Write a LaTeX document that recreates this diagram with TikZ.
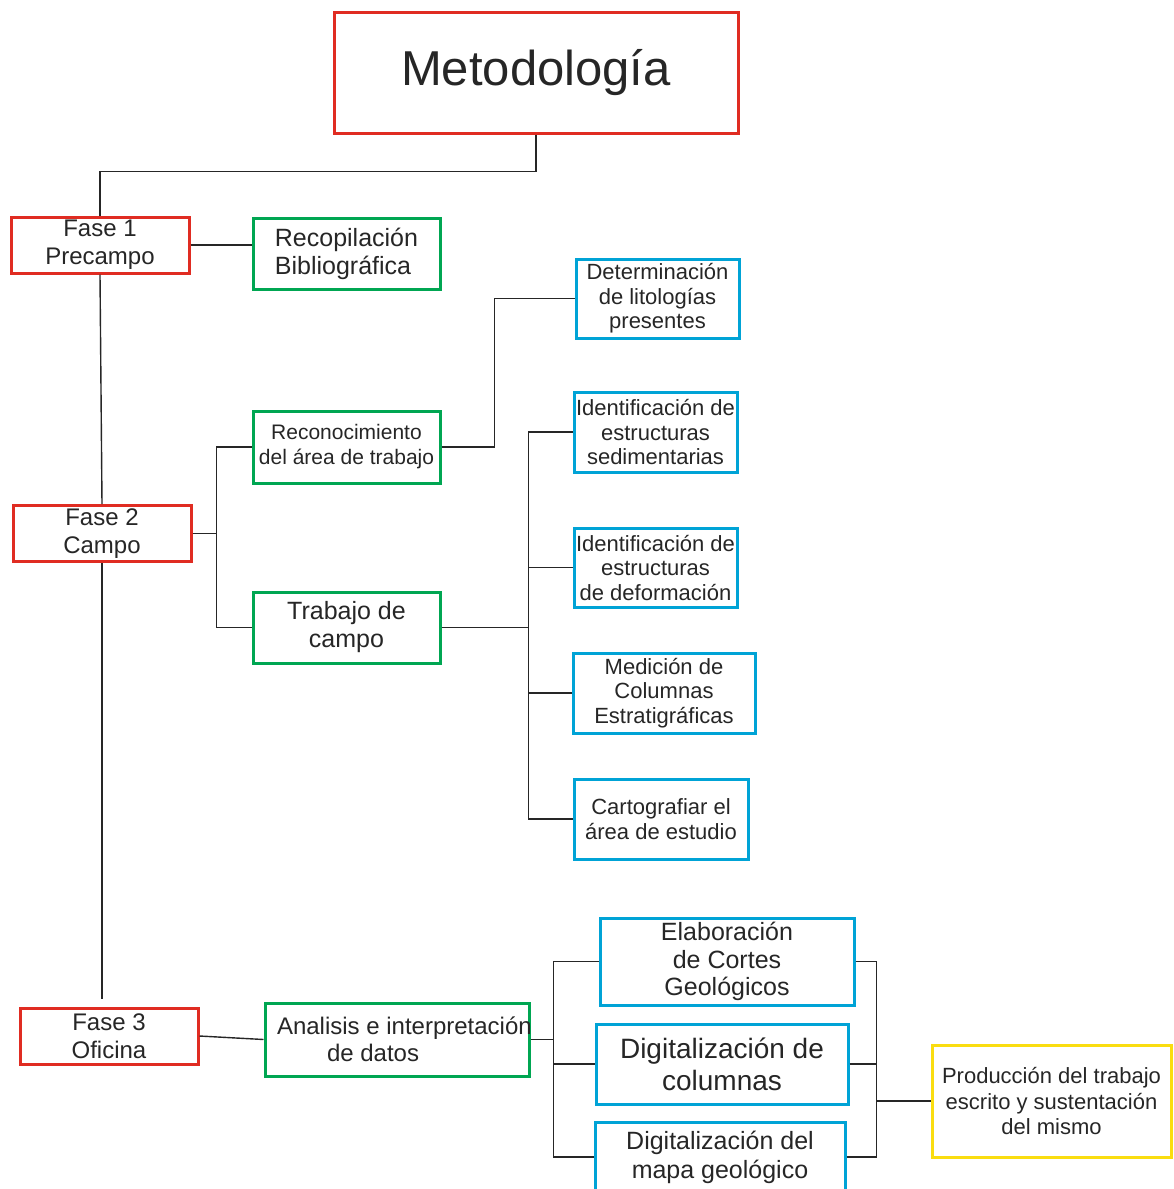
\documentclass[tikz,border=0pt]{standalone}
\usepackage{fontspec}
\setmainfont{Liberation Sans}
\definecolor{fasered}{RGB}{224,44,34}
\definecolor{subgreen}{RGB}{0,166,82}
\definecolor{taskblue}{RGB}{0,163,214}
\definecolor{endyellow}{RGB}{250,221,16}

\begin{document}
\begin{tikzpicture}[
  x=1pt, y=-1pt,
  box/.style={draw,line width=3pt,inner sep=0pt,align=center,text=black!85},
  fasebox/.style={box,draw=fasered,minimum width=178pt,minimum height=56pt,
    font=\fontsize{24}{28}\selectfont},
  subbox/.style={box,draw=subgreen,minimum width=187pt,minimum height=71pt,
    font=\fontsize{25}{28}\selectfont},
  taskbox/.style={box,draw=taskblue,minimum width=163pt,minimum height=80pt,
    font=\fontsize{22}{24.5}\selectfont},
  link/.style={draw=black!85,line width=1.4pt},
]
\useasboundingbox (0,0) rectangle (1173,1189);

\node[box,draw=fasered,minimum width=404pt,minimum height=121pt,
  font=\fontsize{49}{55}\selectfont] (meto) at (536,72.5) {Metodología};

\node[fasebox] (fase1) at (100,245) {Fase 1\\Precampo};
\node[fasebox] (fase2) at (102,533.5) {Fase 2\\Campo};
\node[fasebox] (fase3) at (109,1036) {Fase 3\\Oficina};

\node[subbox,align=left] (recop) at (346.5,253.5) {Recopilación\\Bibliográfica};
\node[subbox,minimum height=72pt,font=\fontsize{21}{25}\selectfont] (recon) at (346.5,447)
  {Reconocimiento\\del área de trabajo};
\node[subbox] (trab) at (346.5,627.5) {Trabajo de\\campo};
\node[subbox,minimum width=264pt,minimum height=73pt,
  font=\fontsize{24}{27}\selectfont] (anal) at (397,1039.5)
  {\makebox[264pt][l]{\hspace{12pt}Analisis e interpretación}\\
   \makebox[264pt][l]{\hspace{62pt}de datos}};

\node[taskbox,minimum height=79pt] (deter) at (657.5,298.5) {Determinación\\de litologías\\presentes};
\node[taskbox] (idsed) at (655.5,432) {Identificación de\\estructuras\\sedimentarias};
\node[taskbox,minimum height=79pt] (iddef) at (655.5,567.5) {Identificación de\\estructuras\\de deformación};
\node[taskbox,minimum width=182pt] (medic) at (664,693) {Medición de\\Columnas\\Estratigráficas};
\node[taskbox,minimum width=174pt] (carto) at (661,819) {Cartografiar el\\área de estudio};

\node[taskbox,minimum width=254pt,minimum height=87pt,font=\fontsize{25}{27.5}\selectfont]
  (elab) at (727,961.5) {Elaboración\\de Cortes\\Geológicos};
\node[taskbox,minimum width=252pt,minimum height=80pt,font=\fontsize{28}{32}\selectfont]
  (digcol) at (722,1064) {Digitalización de\\columnas};
\node[taskbox,minimum width=250pt,minimum height=70pt,font=\fontsize{25}{29}\selectfont]
  (digmap) at (720,1157) {Digitalización del\\mapa geológico};

\node[box,draw=endyellow,minimum width=239pt,minimum height=112pt,
  font=\fontsize{22}{25.5}\selectfont] (prod) at (1051.5,1101)
  {Producción del trabajo\\escrito y sustentación\\del mismo};

% tronco principal
\draw[link] (meto.south) -- ++(0,37) -| (fase1.north);
\draw[link] (fase1.east) -- (fase1.east -| recop.west);
\draw[link] (fase1.south) -- (fase2.north);
\draw[link] (fase2.south) -- ([yshift=8pt]fase2.south |- fase3.north);

% fase 2
\coordinate (bus2) at ([xshift=24pt]fase2.east);
\draw[link] (fase2.east) -- (bus2);
\draw[link] (recon.west) -| (bus2) |- (trab.west);
\draw[link] (recon.east) -- ++(53,0) |- (deter.west);
\draw[link] (trab.east) -- ++(87,0) coordinate (bus3);
\foreach \n in {idsed,iddef,medic,carto}
  \draw[link] (bus3) |- (\n.west);

% fase 3
\draw[link] (fase3.east) -- (anal.west);
\draw[link] (anal.east) -- ++(23,0) coordinate (bus4);
\foreach \n in {elab,digcol,digmap}
  \draw[link] (bus4) |- (\n.west);
\draw[link] (prod.west) -- ++(-54,0) coordinate (bus5);
\foreach \n in {elab,digcol,digmap}
  \draw[link] (\n.east) -| (bus5);
\end{tikzpicture}
\end{document}
